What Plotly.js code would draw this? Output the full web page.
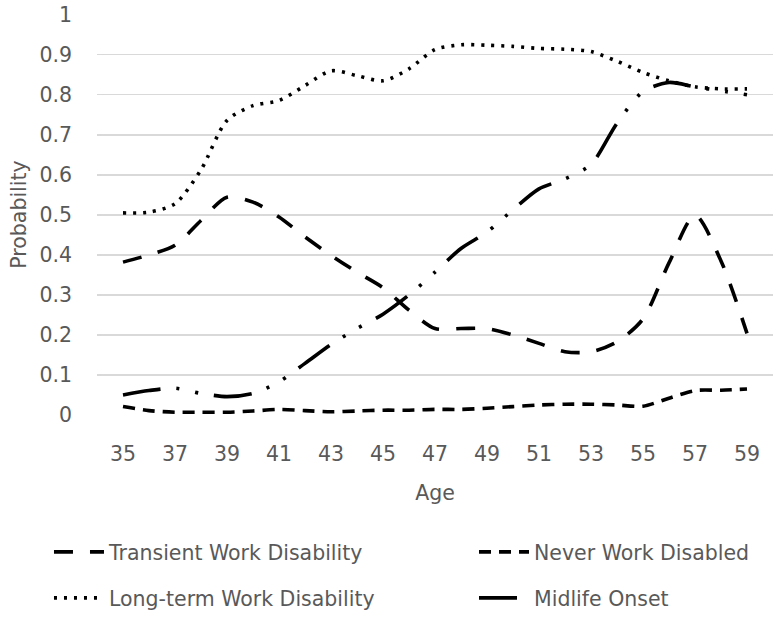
<!DOCTYPE html>
<html>
<head>
<meta charset="utf-8">
<script src="https://cdn.plot.ly/plotly-3.0.1.min.js"></script>
<style>html,body{margin:0;padding:0;background:#fff;}#chart{width:780px;height:619px;}</style>
</head>
<body>
<div id="chart"></div>
<script>
const ages = [35,36,37,38,39,40,41,42,43,44,45,46,47,48,49,50,51,52,53,54,55,56,57,58,59];
const tickAges = [35,37,39,41,43,45,47,49,51,53,55,57,59];
const transient = [0.382,0.400,0.424,0.486,0.544,0.532,0.495,0.445,0.399,0.357,0.318,0.262,0.216,0.216,0.216,0.200,0.179,0.158,0.158,0.183,0.240,0.380,0.499,0.385,0.204];
const neverDisabled = [0.021,0.011,0.007,0.007,0.007,0.010,0.014,0.011,0.008,0.010,0.012,0.012,0.014,0.014,0.017,0.021,0.025,0.027,0.027,0.025,0.022,0.042,0.061,0.062,0.065];
const longTerm = [0.505,0.507,0.528,0.613,0.736,0.773,0.786,0.823,0.860,0.848,0.835,0.865,0.913,0.925,0.924,0.921,0.916,0.914,0.908,0.884,0.856,0.835,0.820,0.815,0.815];
const midlife = [0.050,0.061,0.067,0.054,0.046,0.054,0.083,0.129,0.176,0.216,0.252,0.300,0.357,0.416,0.457,0.513,0.565,0.590,0.626,0.729,0.808,0.831,0.820,0.810,0.800];
const yTicks = [0,0.1,0.2,0.3,0.4,0.5,0.6,0.7,0.8,0.9,1];

const axisFont = {family: 'DejaVu Sans, sans-serif', size: 20.5, color: '#595959'};
const legFont = {family: 'DejaVu Sans, sans-serif', size: 20.5, color: '#595959'};

function tr(name, y, dash, legend) {
  return {x: ages, y: y, name: name, type: 'scatter', mode: 'lines',
    line: {color: '#000', width: 3.6, dash: dash, shape: 'spline', smoothing: 0.8},
    legend: legend, hoverinfo: 'skip'};
}
const data = [
  tr('Transient Work Disability', transient, '19px,17px', 'legend'),
  tr('Never Work Disabled', neverDisabled, '12px,8px', 'legend2'),
  tr('Long-term Work Disability', longTerm, '3px,7px', 'legend3'),
  tr('Midlife Onset', midlife, '38px,16px,3px,16px,3px,16px', 'legend4')
];
const legBase = {orientation: 'h', xanchor: 'left', yanchor: 'middle', bgcolor: 'rgba(0,0,0,0)',
  xref: 'container', yref: 'container', itemwidth: 50, font: legFont};
const col1 = 0.0628, col2 = 0.6077, row1 = 0.1082, row2 = 0.0339;
const layout = {
  width: 780, height: 619,
  margin: {l: 97, r: 7, t: 14, b: 204},
  paper_bgcolor: '#fff', plot_bgcolor: '#fff',
  showlegend: true,
  xaxis: {range: [34, 60], tickmode: 'array', tickvals: tickAges, ticktext: tickAges.map(String),
    showgrid: false, zeroline: false, showline: false, ticks: '', tickfont: axisFont,
    ticklabelstandoff: 24, automargin: false,
    title: {text: 'Age', font: axisFont, standoff: 21}},
  yaxis: {range: [0, 1.002], tickmode: 'array', tickvals: yTicks, ticktext: yTicks.map(String),
    showgrid: true, gridcolor: '#d9d9d9', gridwidth: 1.3, zeroline: false, showline: false,
    ticks: '', tickfont: axisFont, ticklabelstandoff: 24, automargin: false,
    title: {text: 'Probability', font: axisFont, standoff: 7}},
  legend: Object.assign({}, legBase, {x: col1, y: row1}),
  legend2: Object.assign({}, legBase, {x: col2, y: row1}),
  legend3: Object.assign({}, legBase, {x: col1, y: row2}),
  legend4: Object.assign({}, legBase, {x: col2, y: row2})
};
Plotly.newPlot('chart', data, layout, {displayModeBar: false, staticPlot: true});
</script>
</body>
</html>
